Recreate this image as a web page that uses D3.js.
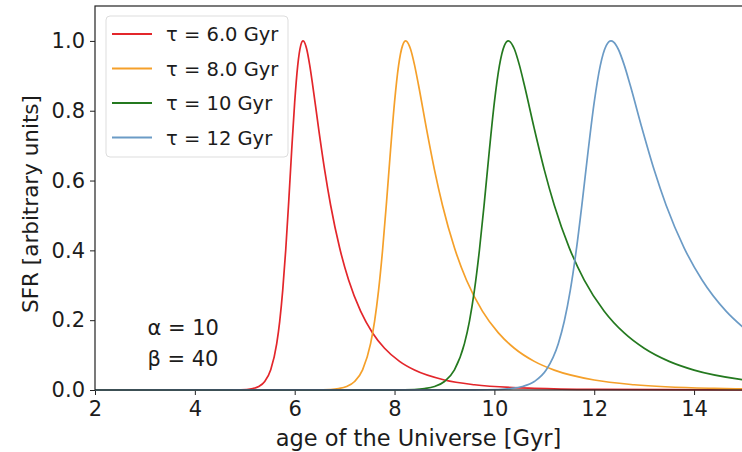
<!DOCTYPE html>
<html>
<head>
<meta charset="utf-8">
<script src="https://d3js.org/d3.v7.min.js"></script>
<style>
  body { margin: 0; background: #fff; }
  svg text { font-family: "DejaVu Sans", sans-serif; fill: #1c1c1c; }
</style>
</head>
<body>
<div id="chart"></div>
<script>
// valores: [idade (Gyr), SFR]
var tau6 = [[2,0],[4.8,0.0002],[5.04,0.0015],[5.16,0.004],[5.28,0.0099],[5.40,0.0243],[5.52,0.0578],[5.64,0.1328],[5.70,0.1968],[5.76,0.2852],[5.82,0.4004],[5.88,0.5389],[5.94,0.6875],[6.00,0.8247],[6.06,0.9286],[6.12,0.9865],[6.168,1.0],[6.18,0.9993],[6.24,0.9768],[6.30,0.9313],[6.36,0.8736],[6.48,0.7481],[6.60,0.6306],[6.72,0.5292],[6.90,0.4073],[7.08,0.315],[7.32,0.2258],[7.56,0.1635],[7.80,0.1196],[8.10,0.082],[8.40,0.057],[9.0,0.0286],[9.6,0.015],[10.8,0.0046],[12.0,0.0016],[15.0,0.0002]];
var tau8 = [[2,0],[6.4,0.0002],[6.72,0.0015],[6.88,0.004],[7.04,0.0099],[7.20,0.0243],[7.36,0.0578],[7.52,0.1328],[7.60,0.1968],[7.68,0.2852],[7.76,0.4004],[7.84,0.5389],[7.92,0.6875],[8.00,0.8247],[8.08,0.9286],[8.16,0.9865],[8.224,1.0],[8.24,0.9993],[8.32,0.9768],[8.40,0.9313],[8.48,0.8736],[8.64,0.7481],[8.80,0.6306],[8.96,0.5292],[9.20,0.4073],[9.44,0.315],[9.76,0.2258],[10.08,0.1635],[10.40,0.1196],[10.80,0.082],[11.20,0.057],[12.0,0.0286],[12.8,0.015],[14.4,0.0046],[15.0,0.0031]];
var tau10 = [[2,0],[8.0,0.0002],[8.4,0.0015],[8.6,0.004],[8.8,0.0099],[9.0,0.0243],[9.2,0.0578],[9.4,0.1328],[9.5,0.1968],[9.6,0.2852],[9.7,0.4004],[9.8,0.5389],[9.9,0.6875],[10.0,0.8247],[10.1,0.9286],[10.2,0.9865],[10.28,1.0],[10.3,0.9993],[10.4,0.9768],[10.5,0.9313],[10.6,0.8736],[10.8,0.7481],[11.0,0.6306],[11.2,0.5292],[11.5,0.4073],[11.8,0.315],[12.2,0.2258],[12.6,0.1635],[13.0,0.1196],[13.5,0.082],[14.0,0.057],[15.0,0.0286]];
var tau12 = [[2,0],[9.6,0.0002],[10.08,0.0015],[10.32,0.004],[10.56,0.0099],[10.80,0.0243],[11.04,0.0578],[11.28,0.1328],[11.40,0.1968],[11.52,0.2852],[11.64,0.4004],[11.76,0.5389],[11.88,0.6875],[12.00,0.8247],[12.12,0.9286],[12.24,0.9865],[12.336,1.0],[12.36,0.9993],[12.48,0.9768],[12.60,0.9313],[12.72,0.8736],[12.96,0.7481],[13.20,0.6306],[13.44,0.5292],[13.80,0.4073],[14.16,0.315],[14.64,0.2258],[15.0,0.1771]];

var nomes = ["τ = 6.0 Gyr", "τ = 8.0 Gyr", "τ = 10 Gyr", "τ = 12 Gyr"];
var cores = ["#e3262b", "#f5a02a", "#24791f", "#6b9bc6"];
var xTicks = [2, 4, 6, 8, 10, 12, 14];
var yTicks = [0.0, 0.2, 0.4, 0.6, 0.8, 1.0];
var series = [tau6, tau8, tau10, tau12];

var W = 742, H = 452;
var margin = {top: 6, right: -2, bottom: 62, left: 95};
var width = W - margin.left - margin.right,
    height = H - margin.top - margin.bottom;

var svg = d3.select("#chart").append("svg")
  .attr("width", W).attr("height", H);
var g = svg.append("g")
  .attr("transform", "translate(" + margin.left + "," + margin.top + ")");

var x = d3.scaleLinear().domain([2, 15]).range([0, width]);
var y = d3.scaleLinear().domain([0, 1.1]).range([height, 0]);

// eixos
var ax = g.append("g").attr("transform", "translate(0," + height + ")")
  .call(d3.axisBottom(x).tickValues(xTicks).tickFormat(d3.format("d")).tickSize(5).tickPadding(6));
var ay = g.append("g")
  .call(d3.axisLeft(y).tickValues(yTicks).tickFormat(d3.format(".1f")).tickSize(5).tickPadding(5));
[ax, ay].forEach(function(a){
  a.select(".domain").remove();
  a.selectAll("line").attr("stroke", "#222").attr("stroke-width", 1);
  a.selectAll("text").style("font-size", "21px").attr("fill", "#1c1c1c");
});

// linhas
var linha = d3.line()
  .x(function(d){ return x(d[0]); })
  .y(function(d){ return y(d[1]); })
  .curve(d3.curveMonotoneX);
g.selectAll(".curva").data(series).enter().append("path")
  .attr("class", "curva")
  .attr("d", linha)
  .attr("fill", "none")
  .attr("stroke", function(d, i){ return cores[i]; })
  .attr("stroke-width", 1.7);

// moldura
g.append("rect").attr("x", 0).attr("y", 0).attr("width", width).attr("height", height)
  .attr("fill", "none").attr("stroke", "#222").attr("stroke-width", 1.2);

// rótulos dos eixos
svg.append("text").attr("x", margin.left + x(8.5) - 1).attr("y", 446)
  .attr("text-anchor", "middle").style("font-size", "22.5px")
  .text("age of the Universe [Gyr]");
svg.append("text").attr("transform", "translate(38," + (margin.top + height / 2 + 6) + ") rotate(-90)")
  .attr("text-anchor", "middle").style("font-size", "21.5px")
  .text("SFR [arbitrary units]");

// parâmetros
g.append("text").attr("x", x(3.05)).attr("y", y(0.158)).style("font-size", "21px").text("α = 10");
g.append("text").attr("x", x(3.05)).attr("y", y(0.069)).style("font-size", "21px").text("β = 40");

// legenda
var leg = svg.append("g").attr("transform", "translate(106,16)");
leg.append("rect").attr("width", 182).attr("height", 141).attr("rx", 4)
  .attr("fill", "#fff").attr("fill-opacity", 0.85)
  .attr("stroke", "#ddd").attr("stroke-width", 1);
nomes.forEach(function(n, i){
  var yy = 18 + i * 34.5;
  leg.append("line").attr("x1", 6).attr("x2", 46).attr("y1", yy).attr("y2", yy)
    .attr("stroke", cores[i]).attr("stroke-width", 1.8);
  leg.append("text").attr("x", 60).attr("y", yy + 7).style("font-size", "19.5px").text(n);
});
</script>
</body>
</html>
